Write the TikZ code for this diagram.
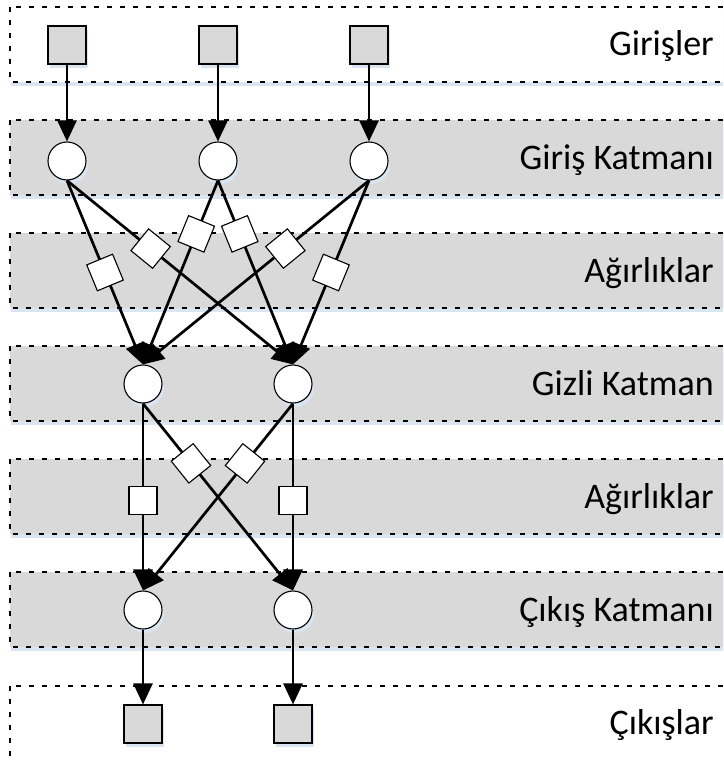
\documentclass[tikz,border=0pt]{standalone}
\usepackage{fontspec}
\setmainfont{Carlito}
\usetikzlibrary{arrows.meta,shadows}
\definecolor{bandgray}{HTML}{D9D9D9}
\definecolor{shadowblue}{HTML}{DAE5F2}
\tikzset{
  band/.style={draw=black, line width=2.8pt, dash pattern=on 5pt off 8pt},
  bandshadow/.style={fill=shadowblue},
  lbl/.style={anchor=base east, inner sep=0pt, font=\fontsize{36}{40}\selectfont},
  iosq/.style={draw=black, line width=1.1pt, fill=bandgray, minimum size=38pt, inner sep=0pt,
    drop shadow={shadow xshift=1.5pt, shadow yshift=-4pt, fill=shadowblue, opacity=1}},
  neuron/.style={circle, draw=black, line width=1.1pt, fill=white, minimum size=38pt, inner sep=0pt,
    drop shadow={shadow xshift=2pt, shadow yshift=-4pt, fill=shadowblue, opacity=1}},
  wt/.style={draw=black, line width=1.1pt, fill=white, minimum size=28pt, inner sep=0pt, sloped},
  conn/.style={draw=black, line width=2.7pt, -{Triangle[length=21pt, width=19pt]}},
}
\begin{document}
\begin{tikzpicture}[x=1pt,y=-1pt]
\useasboundingbox (0,0) rectangle (723,760);
\begin{scope}
\clip (0,0) rectangle (723,760);
% bands
\fill[bandshadow] (11,11) rectangle (740,86);
\filldraw[band, fill=white] (10,7) rectangle (740,82);
\fill[bandshadow] (11,124) rectangle (740,199);
\filldraw[band, fill=bandgray] (10,120) rectangle (740,195);
\fill[bandshadow] (11,237) rectangle (740,312);
\filldraw[band, fill=bandgray] (10,233) rectangle (740,308);
\fill[bandshadow] (11,350) rectangle (740,425);
\filldraw[band, fill=bandgray] (10,346) rectangle (740,421);
\fill[bandshadow] (11,463) rectangle (740,538);
\filldraw[band, fill=bandgray] (10,459) rectangle (740,534);
\fill[bandshadow] (11,576) rectangle (740,651);
\filldraw[band, fill=bandgray] (10,572) rectangle (740,647);
\filldraw[band, fill=white] (10,686) rectangle (740,800);
\end{scope}
% labels
\node[lbl] (t1) at (714,56) {Girişler};
\node[lbl] (t2) at (714,169) {Giriş Katmanı};
\node[lbl] (t3) at (714,282) {Ağırlıklar};
\node[lbl] (t4) at (714,395) {Gizli Katman};
\node[lbl] (t5) at (714,508) {Ağırlıklar};
\node[lbl] (t6) at (714,621) {Çıkış Katmanı};
\node[lbl] (t7) at (714,734) {Çıkışlar};
% nodes
\node[iosq] (x1) at (67,45) {};
\node[iosq] (x2) at (218,45) {};
\node[iosq] (x3) at (369,45) {};
\node[neuron] (i1) at (67,161) {};
\node[neuron] (i2) at (218,161) {};
\node[neuron] (i3) at (369,161) {};
\node[neuron] (h1) at (143,384) {};
\node[neuron] (h2) at (293,384) {};
\node[neuron] (o1) at (143,610) {};
\node[neuron] (o2) at (293,610) {};
\node[iosq] (y1) at (143,724) {};
\node[iosq] (y2) at (293,724) {};
% connectors
\draw[conn] (x1) -- (i1);
\draw[conn] (x2) -- (i2);
\draw[conn] (x3) -- (i3);
\draw[conn] (i1.south) -- (h1.north);
\draw[conn] (i1.south) -- (h2.north);
\draw[conn] (i2.south) -- (h1.north);
\draw[conn] (i2.south) -- (h2.north);
\draw[conn] (i3.south) -- (h1.north);
\draw[conn] (i3.south) -- (h2.north);
\draw[conn] (h1.south) -- (o1.north);
\draw[conn] (h1.south) -- (o2.north);
\draw[conn] (h2.south) -- (o1.north);
\draw[conn] (h2.south) -- (o2.north);
\draw[conn] (o1) -- (y1);
\draw[conn] (o2) -- (y2);
% weights
\path (i1.south) -- node[wt, pos=0.50] (w11) {} (h1.north);
\path (i1.south) -- node[wt, pos=0.37] (w12) {} (h2.north);
\path (i2.south) -- node[wt, pos=0.29] (w21) {} (h1.north);
\path (i2.south) -- node[wt, pos=0.29] (w22) {} (h2.north);
\path (i3.south) -- node[wt, pos=0.37] (w31) {} (h1.north);
\path (i3.south) -- node[wt, pos=0.50] (w32) {} (h2.north);
\path (h1.south) -- node[wt, pos=0.52] (v11) {} (o1.north);
\path (h1.south) -- node[wt, pos=0.32] (v12) {} (o2.north);
\path (h2.south) -- node[wt, pos=0.32] (v21) {} (o1.north);
\path (h2.south) -- node[wt, pos=0.52] (v22) {} (o2.north);
\end{tikzpicture}
\end{document}
